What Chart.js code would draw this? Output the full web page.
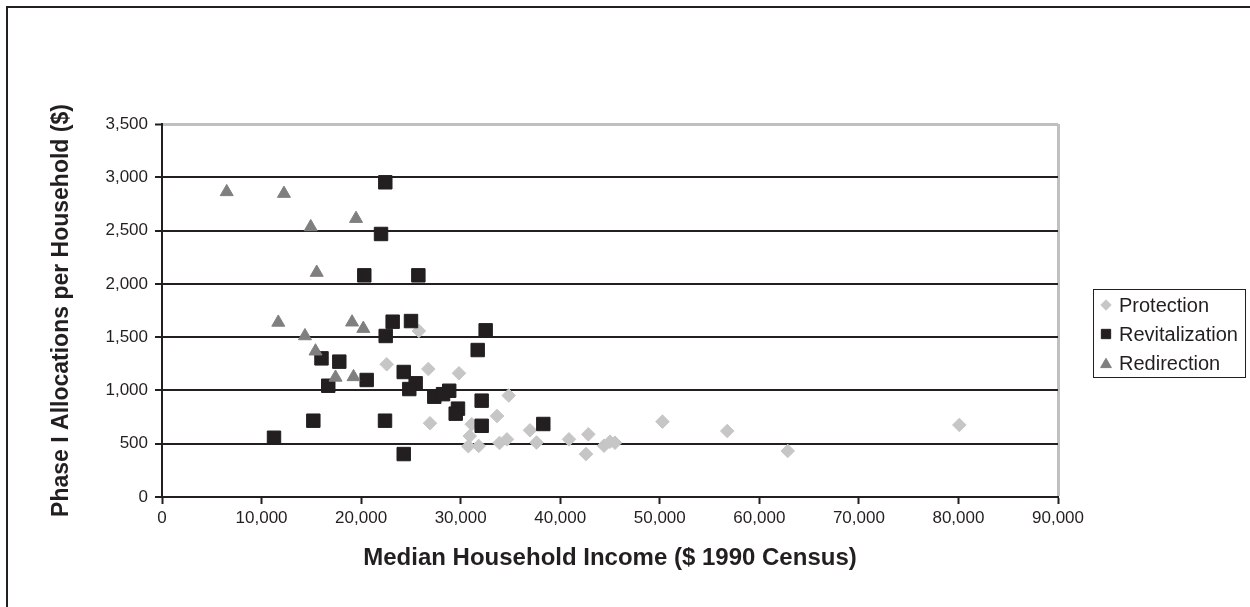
<!DOCTYPE html>
<html>
<head>
<meta charset="utf-8">
<title>Phase I Allocations per Household</title>
<script src="https://cdn.jsdelivr.net/npm/chart.js@4.4.0/dist/chart.umd.min.js"></script>
<style>
    body { margin: 0; background: #fff; }
    #wrap { position: relative; width: 1250px; height: 607px; overflow: hidden; }
    #frame { position: absolute; left: 6px; top: 6px; width: 1300px; height: 700px;
             border-top: 2px solid #231f20; border-left: 2px solid #231f20; }
    #c1 { position: absolute; left: 0; top: 0; }
</style>
</head>
<body>
<div id="wrap">
    <div id="frame"></div>
    <canvas id="c1" width="1250" height="607"></canvas>
</div>
<script>
    // values (income in $ 1990, allocation in $ per household)
    var seriesNames = ["Protection", "Revitalization", "Redirection"];

    var protectionIncome = [25800, 22570, 26750, 29830, 26920, 34830, 33650, 31110, 30910, 30770, 31810, 33900, 34650,
        36960, 37620, 40880, 42820, 42590, 44400, 45000, 45500, 50270, 56780, 62850, 80090];
    var protectionAlloc = [1558, 1245, 1201, 1161, 692, 952, 760, 683, 572, 476, 479, 507, 541,
        626, 511, 541, 588, 403, 481, 519, 509, 707, 619, 432, 676];

    var revitalIncome = [22430, 22000, 20320, 25750, 23170, 25010, 22470, 32510, 31710, 16020, 17810, 16700, 20560, 24280,
        25480, 24840, 27350, 28230, 28850, 29730, 29500, 32110, 32110, 38300, 22400, 15200, 11250, 24280];
    var revitalAlloc = [2953, 2468, 2080, 2080, 1645, 1651, 1511, 1564, 1379, 1301, 1270, 1044, 1098, 1173,
        1067, 1013, 941, 965, 997, 829, 782, 904, 668, 685, 716, 716, 556, 403];

    var redirectIncome = [6500, 12250, 14940, 19490, 15540, 11680, 19090, 20220, 14360, 15420, 17430, 19240];
    var redirectAlloc = [2863, 2847, 2534, 2612, 2106, 1638, 1640, 1580, 1511, 1368, 1122, 1127];

    var xMax = 90000, xStep = 10000;
    var yMax = 3500, yStep = 500;

    function pairs(xs, ys) {
        return xs.map(function(x, i) { return { x: x, y: ys[i] }; });
    }

    var ink = "#231f20";
    var frameGrey = "#c0c0c0";

    Chart.defaults.font.family = "'Liberation Sans', Arial, sans-serif";
    Chart.defaults.color = ink;

    // hand drawn legend with a box round it, like the original
    var legendBox = {
        id: "legendBox",
        afterDraw: function(chart) {
            var ctx = chart.ctx;
            var left = 1093, top = 289;
            ctx.save();
            ctx.strokeStyle = ink;
            ctx.lineWidth = 1;
            ctx.strokeRect(left + 0.5, top + 0.5, 152, 88);
            var rows = [305, 334, 363];
            var sizes = [5.2, 6.6, 6.2];
            ctx.font = "20px 'Liberation Sans', Arial, sans-serif";
            ctx.textBaseline = "middle";
            chart.data.datasets.forEach(function(ds, i) {
                ctx.fillStyle = ds.backgroundColor;
                ctx.strokeStyle = ds.borderColor;
                Chart.helpers.drawPoint(ctx, { pointStyle: ds.pointStyle, radius: sizes[i], rotation: 0, borderWidth: 1 },
                    left + 13, rows[i] + (ds.pointStyle === "triangle" ? 1.5 : 0));
                ctx.fillStyle = ink;
                ctx.fillText(ds.label, left + 26, rows[i] + 1);
            });
            ctx.restore();
        }
    };

    new Chart(document.getElementById("c1"), {
        type: "scatter",
        data: {
            datasets: [{
                label: seriesNames[0],
                data: pairs(protectionIncome, protectionAlloc),
                pointStyle: "rectRot",
                pointRadius: 6.8,
                backgroundColor: "#c6c6c6",
                borderColor: "#c6c6c6",
                borderWidth: 1,
                order: 3
            }, {
                label: seriesNames[1],
                data: pairs(revitalIncome, revitalAlloc),
                pointStyle: "rect",
                pointRadius: 9.5,
                backgroundColor: ink,
                borderColor: ink,
                borderWidth: 1,
                order: 2
            }, {
                label: seriesNames[2],
                data: pairs(redirectIncome, redirectAlloc),
                pointStyle: "triangle",
                pointRadius: 7.5,
                backgroundColor: "#7f7f7f",
                borderColor: "#7f7f7f",
                borderWidth: 1,
                order: 1
            }]
        },
        options: {
            responsive: false,
            devicePixelRatio: 1,
            animation: false,
            events: [],
            layout: { padding: { left: 0, top: 124, right: 192, bottom: 0 } },
            plugins: {
                legend: { display: false },
                tooltip: { enabled: false }
            },
            scales: {
                x: {
                    type: "linear",
                    min: 0,
                    max: xMax,
                    ticks: { stepSize: xStep, padding: 4, font: { size: 17 }, color: ink, maxRotation: 0 },
                    grid: {
                        drawOnChartArea: true,
                        color: function(c) { return c.tick && c.tick.value === xMax ? frameGrey : "rgba(0,0,0,0)"; },
                        lineWidth: function(c) { return c.tick && c.tick.value === xMax ? 3 : 1; },
                        tickColor: ink,
                        tickWidth: 2,
                        tickLength: 7
                    },
                    border: { color: ink, width: 2 },
                    title: {
                        display: true,
                        text: "Median Household Income ($ 1990 Census)",
                        font: { size: 24, weight: "bold" },
                        color: ink,
                        padding: { top: 0, bottom: 34 }
                    },
                    afterFit: function(s) { s.height = 110; }
                },
                y: {
                    min: 0,
                    max: yMax,
                    ticks: { stepSize: yStep, padding: 7, font: { size: 17 }, color: ink },
                    grid: {
                        color: function(c) { return c.tick && c.tick.value === yMax ? frameGrey : ink; },
                        lineWidth: function(c) { return c.tick && c.tick.value === yMax ? 3 : 2; },
                        tickColor: ink,
                        tickWidth: 2,
                        tickLength: 7
                    },
                    border: { color: ink, width: 2 },
                    title: {
                        display: true,
                        text: "Phase I Allocations per Household ($)",
                        font: { size: 23, weight: "bold" },
                        color: ink,
                        padding: { top: 48, bottom: 0 }
                    },
                    afterFit: function(s) { s.width = 162; }
                }
            }
        },
        plugins: [legendBox]
    });
</script>
</body>
</html>
